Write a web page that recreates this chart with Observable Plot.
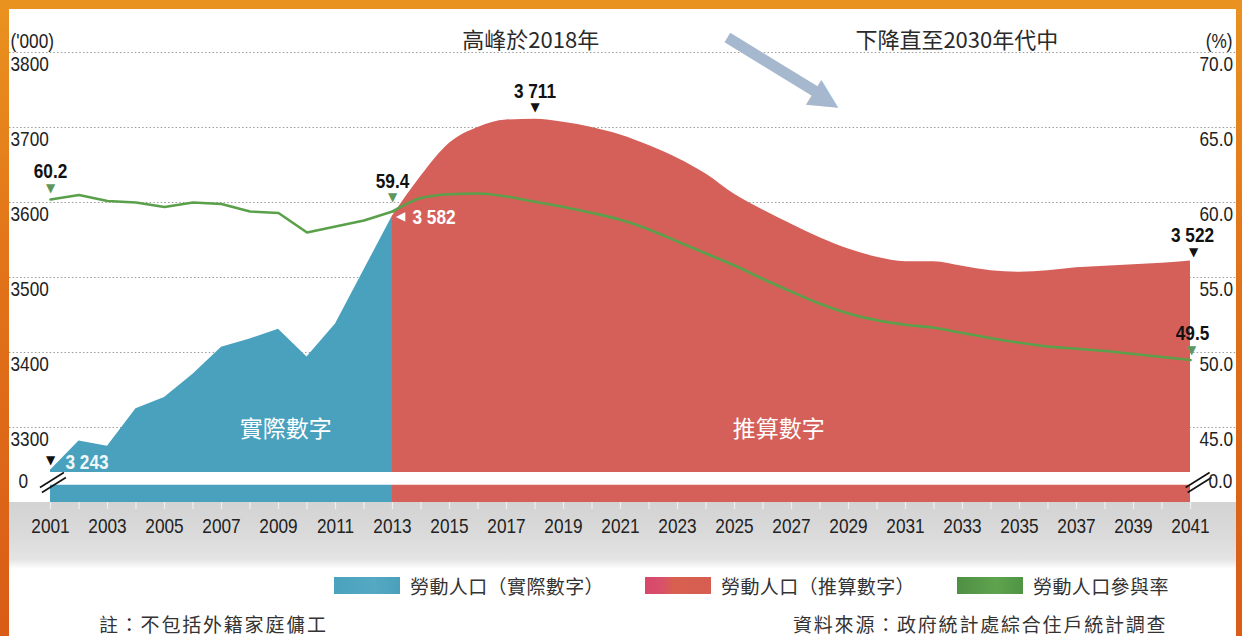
<!DOCTYPE html>
<html>
<head>
<meta charset="utf-8">
<script src="https://cdn.jsdelivr.net/npm/d3@7"></script>
<script src="https://cdn.jsdelivr.net/npm/@observablehq/plot@0.6"></script>
<style>
  html, body { margin: 0; padding: 0; }
  body {
    width: 1242px; height: 636px; overflow: hidden; position: relative;
    font-family: "Noto Sans CJK TC", "Noto Sans", sans-serif;
  }
  .orange { position: absolute; background: linear-gradient(180deg, #ea921f 0%, #e27419 40%, #d95c17 100%); background-attachment: fixed; z-index: 5; }
  #panel {
    position: absolute; left: 9px; top: 9px; width: 1227px; height: 627px;
    background: linear-gradient(to bottom, #fff 0, #fff 493px, #d3d3d3 493px, #dadada 525px, #e4e4e4 550px, #f4f4f4 556px, #fff 560px);
  }
  #chart { position: absolute; left: 0; top: 0; z-index: 2; }
  .item { position: absolute; top: 576px; display: flex; align-items: center; font-size: 19px; color: #333; line-height: 1; letter-spacing: 0.4px; z-index: 3; }
  .sw { display: inline-block; width: 66px; height: 17px; margin-right: 10px; }
  .note { position: absolute; top: 614px; font-size: 19px; color: #333; letter-spacing: 1.8px; line-height: 1; z-index: 3; }
</style>
</head>
<body>
<div class="orange" style="left:0;top:0;width:9px;height:636px"></div>
<div class="orange" style="left:0;top:0;width:1242px;height:9px"></div>
<div class="orange" style="left:1236px;top:0;width:6px;height:636px"></div>
<div id="panel"></div>
<div id="chart"></div>
<div class="item" style="left:334px"><span class="sw" style="background:linear-gradient(90deg,#4aa2bd,#55a9c2 60%,#4aa0bb)"></span><span>勞動人口（實際數字）</span></div>
<div class="item" style="left:645px"><span class="sw" style="background:linear-gradient(90deg,#d8466c 0%,#d8506a 25%,#d8604f 45%,#d65e52 100%)"></span><span>勞動人口（推算數字）</span></div>
<div class="item" style="left:957px"><span class="sw" style="background:linear-gradient(90deg,#4f8f44,#5fa34e 60%,#4e9444)"></span><span>勞動人口參與率</span></div>
<div class="note" style="left:99px">註：不包括外籍家庭傭工</div>
<div class="note" style="left:793px">資料來源：政府統計處綜合住戶統計調查</div>
<script>
// ---- data ('000 persons and %) ----
const actualYears = d3.range(2001, 2014);
const actualLabour = [3243, 3282, 3275, 3325, 3340, 3371, 3407, 3418, 3431, 3394, 3438, 3510, 3582];
const actualRate = [60.2, 60.5, 60.1, 60.0, 59.7, 60.0, 59.9, 59.4, 59.3, 58.0, 58.4, 58.8, 59.4];

const projYears = d3.range(2013, 2042);
const projLabour = [3582, 3635, 3679, 3700, 3710, 3711, 3707, 3700, 3690, 3676, 3659, 3638, 3611, 3590, 3571,
                    3553, 3538, 3527, 3521, 3521, 3515, 3509, 3507, 3509, 3513, 3515, 3517, 3519, 3522];
const projRate = [59.4, 60.3, 60.55, 60.6, 60.4, 60.05, 59.7, 59.3, 58.85, 58.2, 57.4, 56.6, 55.8, 54.9, 54.05,
                  53.25, 52.6, 52.15, 51.85, 51.65, 51.3, 50.95, 50.65, 50.4, 50.25, 50.1, 49.9, 49.7, 49.5];

// ---- axes / ticks ----
const leftTicks = [3300, 3400, 3500, 3600, 3700, 3800];
const rateTicks = [45, 50, 55, 60, 65, 70];
const tickYears = d3.range(2001, 2042);
const labelYears = d3.range(2001, 2042, 2);
const axisBottom = 3200;          // bottom of the broken axis (stands for 0)
const breakBand = [3223, 3240];   // white gap of the axis break
const breakMarks = [2001.05, 2041.25];

// ---- annotations ----
const headlines = [{year: 2017.85, text: "高峰於2018年"}, {year: 2032.8, text: "下降直至2030年代中"}];
const areaLabels = [{year: 2009.25, value: 3297, text: "實際數字"}, {year: 2026.55, value: 3297, text: "推算數字"}];
const trendShaft = [{x1: 2024.75, y1: 3820, x2: 2028.1, y2: 3742}];
const trendHead = [{x: 2028.25, y: 3739}];

// participation rate (%) drawn on the '000 axis: 70% <-> 3800, 5 points per 100
const toK = p => 3600 + (p - 60) * 20;
const fromK = v => 60 + (v - 3600) / 20;

const actual = actualYears.map((year, i) => ({year, labour: actualLabour[i], rate: toK(actualRate[i])}));
const proj = projYears.map((year, i) => ({year, labour: projLabour[i], rate: toK(projRate[i])}));
const pick = (arr, yr) => arr.filter(d => d.year === yr);

const BLUE = "#4aa1bd", RED = "#d5605a", GREEN = "#5aa04a", GTRI = "#5e965c", ARROW = "#a6b8ce";
const NUM = "'Liberation Sans', Arial, Helvetica, sans-serif";
const CJK = "'Noto Sans CJK TC', sans-serif";
const bold = {fontFamily: NUM, fontWeight: "bold", fontSize: 21};

const chart = Plot.plot({
  width: 1242, height: 565,
  marginTop: 52, marginBottom: 63, marginLeft: 9, marginRight: 6,
  x: {domain: [2001, 2041], insetLeft: 41, insetRight: 46},
  y: {domain: [axisBottom, 3800]},
  style: {background: "transparent", overflow: "visible", fontFamily: NUM, fontSize: "21px", color: "#222"},
  marks: [
    Plot.ruleY(leftTicks, {stroke: "#9c9c9c", strokeDasharray: "1.5,2.2", strokeWidth: 1}),
    Plot.areaY(actual, {x: "year", y1: axisBottom, y2: "labour", fill: BLUE}),
    Plot.areaY(proj, {x: "year", y1: axisBottom, y2: "labour", fill: RED, curve: "monotone-x"}),
    Plot.rect([breakBand], {x1: 2001, x2: 2041, y1: d => d[0], y2: d => d[1], fill: "white"}),
    Plot.link(breakMarks, {x1: d => d - 0.42, x2: d => d + 0.42, y1: 3220, y2: 3240, stroke: "#111", strokeWidth: 1.6}),
    Plot.link(breakMarks, {x1: d => d - 0.42, x2: d => d + 0.42, y1: 3220, y2: 3240, stroke: "#111", strokeWidth: 1.6, dx: 2, dy: 5}),
    Plot.line(actual, {x: "year", y: "rate", stroke: GREEN, strokeWidth: 2.6}),
    Plot.line(proj, {x: "year", y: "rate", stroke: GREEN, strokeWidth: 2.6, curve: "monotone-x"}),
    Plot.link(trendShaft, {x1: "x1", y1: "y1", x2: "x2", y2: "y2", stroke: ARROW, strokeWidth: 11}),
    Plot.text(trendHead, {x: "x", y: "y", text: () => "▶", rotate: 32, fontSize: 38, fill: ARROW, fontFamily: "DejaVu Sans"}),

    // axes
    Plot.axisY(leftTicks, {anchor: "left", tickSize: 0, tickPadding: 0, textAnchor: "start", dx: 1, dy: 12, label: null, tickFormat: d => String(d)}),
    Plot.axisY(rateTicks.map(toK), {anchor: "right", tickSize: 0, tickPadding: 0, textAnchor: "start", dx: -37, dy: 12, label: null, tickFormat: d => fromK(d).toFixed(1)}),
    Plot.axisX(tickYears, {tickSize: 7, stroke: "#efefef", strokeWidth: 1.2, tickFormat: () => "", label: null}),
    Plot.axisX(labelYears, {tickSize: 0, tickPadding: 16, tickFormat: d => String(d), label: null}),
    Plot.text(["0"], {frameAnchor: "bottom-left", textAnchor: "start", dx: 9, dy: -15}),
    Plot.text(["0.0"], {frameAnchor: "bottom-right", textAnchor: "start", dx: -28, dy: -15}),
    Plot.text(["('000)"], {frameAnchor: "top-left", textAnchor: "start", dx: 1, dy: -19}),
    Plot.text(["(%)"], {frameAnchor: "top-right", textAnchor: "end", dx: -4, dy: -19}),

    // headlines & area labels
    Plot.text(headlines, {x: "year", text: "text", frameAnchor: "top", dy: -20, fontFamily: CJK, fontSize: 22, fill: "#2a2a2a"}),
    Plot.text(areaLabels, {x: "year", y: "value", text: "text", fontFamily: CJK, fontSize: 23, fill: "white"}),

    // value call-outs
    Plot.text(pick(actual, 2001), {x: "year", y: "labour", text: () => "▼", dy: -10, fontSize: 12, fill: "#111", fontFamily: "DejaVu Sans"}),
    Plot.text(pick(actual, 2001), {x: "year", y: "labour", text: () => "3 243", textAnchor: "start", dx: 15, dy: -8, ...bold, fill: "#eef8fb"}),
    Plot.text(pick(proj, 2013), {x: "year", y: "labour", text: () => "◀", dx: 8, dy: 0, fontSize: 12, fill: "white", fontFamily: "DejaVu Sans"}),
    Plot.text(pick(proj, 2013), {x: "year", y: "labour", text: () => "3 582", textAnchor: "start", dx: 20, dy: 1, ...bold, fill: "white"}),
    Plot.text(pick(proj, 2018), {x: "year", y: "labour", text: () => "▼", dy: -12, fontSize: 12, fill: "#111", fontFamily: "DejaVu Sans"}),
    Plot.text(pick(proj, 2018), {x: "year", y: "labour", text: () => "3 711", dy: -28, ...bold, fill: "#111"}),
    Plot.text(pick(proj, 2041), {x: "year", y: "labour", text: () => "▼", dx: 3, dy: -9, fontSize: 12, fill: "#111", fontFamily: "DejaVu Sans"}),
    Plot.text(pick(proj, 2041), {x: "year", y: "labour", text: () => "3 522", dx: 2, dy: -26, ...bold, fill: "#111"}),
    Plot.text(pick(actual, 2001), {x: "year", y: "rate", text: () => "▼", dy: -11, fontSize: 12, fill: GTRI, fontFamily: "DejaVu Sans"}),
    Plot.text(pick(actual, 2001), {x: "year", y: "rate", text: () => "60.2", dy: -28, ...bold, fill: "#111"}),
    Plot.text(pick(actual, 2013), {x: "year", y: "rate", text: () => "▼", dy: -14, fontSize: 12, fill: GTRI, fontFamily: "DejaVu Sans"}),
    Plot.text(pick(actual, 2013), {x: "year", y: "rate", text: () => "59.4", dy: -30, ...bold, fill: "#111"}),
    Plot.text(pick(proj, 2041), {x: "year", y: "rate", text: () => "▼", dx: 1, dy: -10, fontSize: 12, fill: GTRI, fontFamily: "DejaVu Sans"}),
    Plot.text(pick(proj, 2041), {x: "year", y: "rate", text: () => "49.5", dx: 2, dy: -27, ...bold, fill: "#111"})
  ]
});

// condensed look of the original numerals: squeeze Latin text horizontally about its anchor
d3.select(chart).selectAll("text").each(function () {
  if (this.closest('g[font-family*="CJK"]') || this.closest('g[font-family*="DejaVu"]')) return;
  const t = this.getAttribute("transform");
  if (t) this.setAttribute("transform", t + " scale(0.82,1)");
  else {
    const x = +this.getAttribute("x") || 0, y = +this.getAttribute("y") || 0;
    this.removeAttribute("x"); this.removeAttribute("y");
    this.setAttribute("transform", `translate(${x},${y}) scale(0.82,1)`);
  }
});
document.getElementById("chart").appendChild(chart);
</script>
</body>
</html>
